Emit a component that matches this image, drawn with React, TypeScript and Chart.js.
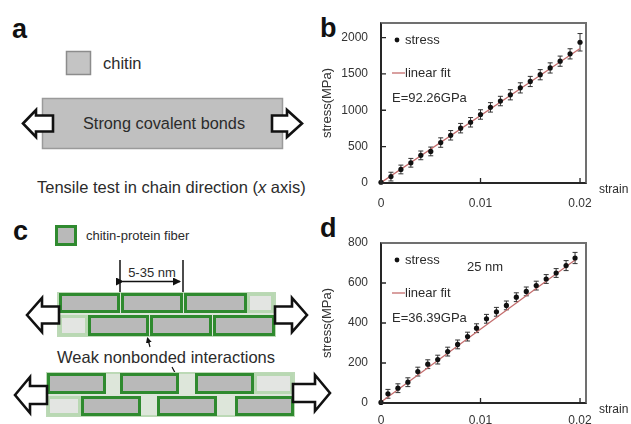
import React, { useEffect, useRef, useState } from 'react';
import { Chart, registerables } from 'chart.js';

Chart.register(...registerables);
Chart.defaults.font.family = '"Liberation Sans", Arial, sans-serif';

// ---------- data: panel b ----------
const strainB = [0, 0.001, 0.002, 0.003, 0.004, 0.005, 0.006, 0.007, 0.008, 0.009, 0.01, 0.011, 0.012, 0.013, 0.014, 0.015, 0.016, 0.017, 0.018, 0.019, 0.02];
const stressB = [10, 88, 186, 278, 380, 434, 556, 656, 754, 835, 942, 1040, 1127, 1213, 1308, 1396, 1489, 1582, 1675, 1776, 1935];
const errB = [0, 60, 60, 60, 60, 60, 65, 65, 65, 65, 65, 65, 65, 70, 70, 70, 70, 70, 70, 70, 120];
const fitStrainB = [0, 0.02];
const fitStressB = [5, 1850];
const yTicksB = [0, 500, 1000, 1500, 2000];
const modulusB = 'E=92.26GPa';

// ---------- data: panel d ----------
const strainD = [0, 0.0007, 0.0017, 0.0027, 0.0037, 0.0047, 0.0057, 0.0067, 0.0077, 0.0087, 0.0096, 0.0106, 0.0116, 0.0126, 0.0136, 0.0146, 0.0156, 0.0166, 0.0176, 0.0186, 0.0195];
const stressD = [3, 46, 74, 104, 157, 194, 217, 257, 293, 332, 374, 421, 456, 488, 529, 558, 587, 620, 650, 687, 725];
const errD = [0, 22, 22, 22, 22, 22, 22, 22, 22, 22, 22, 22, 22, 22, 22, 22, 22, 22, 22, 25, 28];
const fitStrainD = [0, 0.0195];
const fitStressD = [5, 715];
const yTicksD = [0, 200, 400, 600, 800];
const modulusD = 'E=36.39GPa';
const noteD = '25 nm';

const xTicks = [0, 0.01, 0.02];
const X_MAX = 0.0206;

const FIT_COLOR = '#c46d6d';
const TEXT = '#2b2b2b';

function makeDecor(modulus: string, note: string | null, strainDy: number) {
  return {
    id: 'decor',
    beforeDatasetsDraw(chart: any) {
      const ctx = chart.ctx;
      const xs = chart.scales.x;
      const ys = chart.scales.y;
      const ds = chart.data.datasets[0];
      const errs: number[] = ds.errors;
      const y0 = ys.getPixelForValue(0);
      const x0 = xs.getPixelForValue(0);
      ctx.save();
      ctx.lineWidth = 1.3;
      ctx.strokeStyle = '#262626';
      ctx.beginPath();
      xs.ticks.forEach((t: any) => {
        if (t.value === 0) return;
        const x = xs.getPixelForValue(t.value);
        ctx.moveTo(x, y0); ctx.lineTo(x, y0 - 5);
      });
      ys.ticks.forEach((t: any) => {
        if (t.value === 0) return;
        const y = ys.getPixelForValue(t.value);
        ctx.moveTo(x0, y); ctx.lineTo(x0 + 5, y);
      });
      ctx.stroke();
      ctx.lineWidth = 1;
      ctx.strokeStyle = '#333';
      ctx.beginPath();
      ds.data.forEach((p: any, i: number) => {
        const e = errs[i];
        if (!e) return;
        const x = xs.getPixelForValue(p.x);
        const y1 = ys.getPixelForValue(p.y + e);
        const y2 = ys.getPixelForValue(p.y - e);
        ctx.moveTo(x, y1); ctx.lineTo(x, y2);
        ctx.moveTo(x - 2.5, y1); ctx.lineTo(x + 2.5, y1);
        ctx.moveTo(x - 2.5, y2); ctx.lineTo(x + 2.5, y2);
      });
      ctx.stroke();
      ctx.restore();
    },
    afterDraw(chart: any) {
      const ctx = chart.ctx;
      const a = chart.chartArea;
      const L = a.left;
      const T = a.top;
      ctx.save();
      ctx.fillStyle = '#111';
      ctx.beginPath();
      ctx.arc(L + 16, T + 17, 2.4, 0, Math.PI * 2);
      ctx.fill();
      ctx.strokeStyle = FIT_COLOR;
      ctx.lineWidth = 1.3;
      ctx.beginPath();
      ctx.moveTo(L + 11, T + 50);
      ctx.lineTo(L + 24, T + 50);
      ctx.stroke();
      ctx.fillStyle = TEXT;
      ctx.font = '13px "Liberation Sans", Arial, sans-serif';
      ctx.textBaseline = 'middle';
      ctx.textAlign = 'left';
      ctx.fillText('stress', L + 24, T + 17);
      ctx.fillText('linear fit', L + 24, T + 50);
      ctx.fillText(modulus, L + 11, T + 75);
      if (note) ctx.fillText(note, L + 86, T + 24);
      ctx.font = '12px "Liberation Sans", Arial, sans-serif';
      ctx.fillText('strain', a.right + 13, a.bottom + strainDy);
      ctx.restore();
    },
  };
}

function makeConfig(opts: {
  strain: number[]; stress: number[]; err: number[]; fitX: number[]; fitY: number[];
  yMax: number; yTicks: number[]; modulus: string; note: string | null;
  padTop: number; padRight: number; xHeight: number; xPad: number; strainDy: number;
}): any {
  const yMax = opts.yMax;
  return {
    type: 'scatter',
    data: {
      datasets: [
        {
          label: 'stress',
          data: opts.strain.map((x, i) => ({ x, y: opts.stress[i] })),
          errors: opts.err,
          pointRadius: 2.6,
          pointBackgroundColor: '#111',
          pointBorderColor: '#111',
          pointBorderWidth: 0,
          showLine: false,
          clip: false,
        },
        {
          label: 'linear fit',
          data: opts.fitX.map((x, i) => ({ x, y: opts.fitY[i] })),
          showLine: true,
          borderColor: FIT_COLOR,
          borderWidth: 1.3,
          pointRadius: 0,
        },
        {
          label: 'frame-top-right',
          data: [{ x: 0, y: yMax }, { x: X_MAX, y: yMax }, { x: X_MAX, y: 0 }],
          showLine: true,
          borderColor: '#707070',
          borderWidth: 1.6,
          pointRadius: 0,
          clip: false,
        },
        {
          label: 'frame-axes',
          data: [{ x: 0, y: yMax }, { x: 0, y: 0 }, { x: X_MAX, y: 0 }],
          showLine: true,
          borderColor: '#262626',
          borderWidth: 1.6,
          pointRadius: 0,
          clip: false,
        },
      ],
    },
    options: {
      responsive: false,
      animation: false,
      events: [],
      layout: { padding: { left: 0, top: opts.padTop, right: opts.padRight, bottom: 0 } },
      plugins: { legend: { display: false }, tooltip: { enabled: false } },
      scales: {
        x: {
          type: 'linear',
          min: 0,
          max: X_MAX,
          grid: { display: false, drawTicks: false },
          border: { display: false },
          afterBuildTicks: (ax: any) => { ax.ticks = xTicks.map((v) => ({ value: v })); },
          afterFit: (ax: any) => { ax.height = opts.xHeight; },
          ticks: { padding: opts.xPad, color: '#333', font: { size: 12 }, maxRotation: 0, autoSkip: false, callback: (v: any) => String(v) },
        },
        y: {
          type: 'linear',
          min: 0,
          max: yMax,
          grid: { display: false, drawTicks: false },
          border: { display: false },
          afterBuildTicks: (ax: any) => { ax.ticks = opts.yTicks.map((v) => ({ value: v })); },
          afterFit: (ax: any) => { ax.width = 63; },
          ticks: { padding: 13, color: '#333', font: { size: 12 }, autoSkip: false, callback: (v: any) => String(v) },
          title: { display: true, text: 'stress(MPa)', color: '#333', font: { size: 13 }, padding: { top: 2, bottom: 0 } },
        },
      },
    },
    plugins: [makeDecor(opts.modulus, opts.note, opts.strainDy)],
  };
}

function ChartCanvas({ config, left, top, width, height }: any) {
  const ref = useRef<HTMLCanvasElement>(null);
  const [area, setArea] = useState<any>(null);
  useEffect(() => {
    const chart = new Chart(ref.current as HTMLCanvasElement, config());
    const a = chart.chartArea;
    setArea({ left: a.left, top: a.top, width: a.right - a.left, height: a.bottom - a.top });
    return () => chart.destroy();
  }, []);
  return (
    <>
      <canvas ref={ref} width={width} height={height} style={{ position: 'absolute', left, top, width, height }} />
      {area && (
        <div
          style={{
            position: 'absolute',
            left: left + area.left - 1,
            top: top + area.top - 1,
            width: area.width + 2,
            height: area.height + 2,
            boxSizing: 'border-box',
            borderLeft: '2px solid #262626',
            borderBottom: '2px solid #262626',
            borderTop: '2px solid #707070',
            borderRight: '2px solid #707070',
            pointerEvents: 'none',
          }}
        />
      )}
    </>
  );
}

function Arrow({ tip, cy, dir, len, head, headH, shaftH }: any) {
  const s = dir === 'left' ? 1 : -1;
  const hb = tip + s * head;
  const tail = tip + s * len;
  const pts = [
    [tip, cy], [hb, cy - headH / 2], [hb, cy - shaftH / 2], [tail, cy - shaftH / 2],
    [tail, cy + shaftH / 2], [hb, cy + shaftH / 2], [hb, cy + headH / 2],
  ];
  return <polygon points={pts.map((p) => p.join(',')).join(' ')} fill="#fff" stroke="#111" strokeWidth={2.6} strokeLinejoin="miter" />;
}

function Fiber({ x1, x2, y1, y2, faded }: any) {
  return (
    <rect x={x1 + 1.5} y={y1 + 1.5} width={x2 - x1 - 3} height={y2 - y1 - 3}
      fill={faded ? '#e3e5e2' : '#b9b9b9'} stroke={faded ? '#b9d8b3' : '#2f8a2f'} strokeWidth={3} />
  );
}

function Schematic() {
  const font = '"Liberation Sans", Arial, sans-serif';
  return (
    <svg width={631} height={424} style={{ position: 'absolute', left: 0, top: 0 }} fontFamily={font}>
      <defs>
        <marker id="ah" markerWidth="8" markerHeight="8" refX="7" refY="4" orient="auto" markerUnits="userSpaceOnUse">
          <path d="M0,0 L8,4 L0,8 z" fill="#111" />
        </marker>
        <marker id="ahs" markerWidth="6" markerHeight="6" refX="5" refY="3" orient="auto" markerUnits="userSpaceOnUse">
          <path d="M0,0 L6,3 L0,6 z" fill="#111" />
        </marker>
      </defs>
      {/* panel a */}
      <rect x={66.5} y={51.5} width={24} height={23} fill="#c4c4c4" stroke="#8c8c8c" strokeWidth={1.5} />
      <text x={103} y={69} fontSize={16.5} fill={TEXT}>chitin</text>
      <rect x={42.5} y={98.5} width={240} height={50} fill="#c0c0c0" stroke="#9a9a9a" strokeWidth={1.5} />
      <text x={83} y={129} fontSize={16.3} fill={TEXT}>Strong covalent bonds</text>
      <Arrow tip={23} cy={123.5} dir="left" len={30} head={13} headH={27} shaftH={16} />
      <Arrow tip={302} cy={123.5} dir="right" len={30} head={15} headH={27} shaftH={16} />
      <text x={37} y={192.5} fontSize={16.5} fill={TEXT}>
        Tensile test in chain direction (<tspan fontStyle="italic">x</tspan> axis)
      </text>

      {/* panel c */}
      <rect x={56.5} y={226.5} width={19} height={18} fill="#b9b9b9" stroke="#2f8a2f" strokeWidth={3} />
      <text x={86} y={240} fontSize={13} fill={TEXT}>chitin-protein fiber</text>
      <line x1={120} y1={260} x2={120} y2={294} stroke="#111" strokeWidth={1.5} />
      <line x1={183} y1={260} x2={183} y2={294} stroke="#111" strokeWidth={1.5} />
      <line x1={123} y1={281.5} x2={180} y2={281.5} stroke="#111" strokeWidth={1.5} markerEnd="url(#ah)" markerStart="url(#ah)" />
      <text x={152} y={276.5} fontSize={13} fill={TEXT} textAnchor="middle">5-35 nm</text>

      {/* fiber row 1 */}
      <rect x={58} y={293} width={217} height={43} fill="#dde6da" stroke="#bcd9b6" strokeWidth={2} />
      <Fiber x1={59} x2={120} y1={293} y2={313} />
      <Fiber x1={121} x2={183} y1={293} y2={313} />
      <Fiber x1={184} x2={247} y1={293} y2={313} />
      <Fiber x1={247} x2={274} y1={293} y2={313} faded />
      <Fiber x1={59} x2={88} y1={315} y2={336} faded />
      <Fiber x1={88} x2={149} y1={315} y2={336} />
      <Fiber x1={150} x2={212} y1={315} y2={336} />
      <Fiber x1={213} x2={275} y1={315} y2={336} />
      <Arrow tip={27} cy={315} dir="left" len={32} head={15} headH={34} shaftH={17} />
      <Arrow tip={307} cy={315} dir="right" len={32} head={15} headH={34} shaftH={17} />

      <line x1={150} y1={347} x2={147.5} y2={338} stroke="#111" strokeWidth={1.2} markerEnd="url(#ahs)" />
      <text x={57} y={363} fontSize={16.5} fill={TEXT}>Weak nonbonded interactions</text>
      <line x1={172} y1={367} x2={180} y2={382} stroke="#111" strokeWidth={1.2} markerEnd="url(#ahs)" />

      {/* fiber row 2 */}
      <rect x={47} y={373} width={247} height={43} fill="#dde6da" stroke="#bcd9b6" strokeWidth={2} />
      <Fiber x1={47} x2={106} y1={373} y2={394} />
      <Fiber x1={120} x2={179} y1={373} y2={394} />
      <Fiber x1={195} x2={254} y1={373} y2={394} />
      <Fiber x1={254} x2={293} y1={373} y2={394} faded />
      <Fiber x1={47} x2={81} y1={396} y2={416} faded />
      <Fiber x1={81} x2={141} y1={396} y2={416} />
      <Fiber x1={157} x2={217} y1={396} y2={416} />
      <Fiber x1={235} x2={294} y1={396} y2={416} />
      <Arrow tip={15} cy={395} dir="left" len={32} head={15} headH={36} shaftH={18} />
      <Arrow tip={330} cy={393} dir="right" len={37} head={15} headH={36} shaftH={18} />

      {/* panel letters */}
      <text x={12} y={38} fontSize={27} fontWeight="bold" fill="#111">a</text>
      <text x={320} y={37} fontSize={27} fontWeight="bold" fill="#111">b</text>
      <text x={13} y={240} fontSize={27} fontWeight="bold" fill="#111">c</text>
      <text x={320} y={237} fontSize={27} fontWeight="bold" fill="#111">d</text>
    </svg>
  );
}

export default function App() {
  const cfgB = () => makeConfig({
    strain: strainB, stress: stressB, err: errB, fitX: fitStrainB, fitY: fitStressB,
    yMax: 2200, yTicks: yTicksB, modulus: modulusB, note: null,
    padTop: 23, padRight: 45, xHeight: 29, xPad: 13, strainDy: 7,
  });
  const cfgD = () => makeConfig({
    strain: strainD, stress: stressD, err: errD, fitX: fitStrainD, fitY: fitStressD,
    yMax: 800, yTicks: yTicksD, modulus: modulusD, note: noteD,
    padTop: 31, padRight: 45, xHeight: 21, xPad: 10, strainDy: 7,
  });
  return (
    <div style={{ position: 'absolute', left: 0, top: 0, width: 631, height: 424, background: '#fff', overflow: 'hidden' }}>
      <Schematic />
      <ChartCanvas config={cfgB} left={318} top={0} width={313} height={212} />
      <ChartCanvas config={cfgD} left={318} top={212} width={313} height={212} />
    </div>
  );
}
